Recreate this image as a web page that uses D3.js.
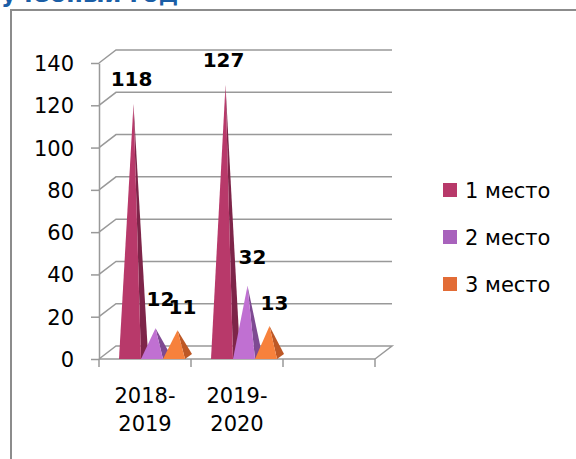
<!DOCTYPE html>
<html>
  <head>
    <meta charset="utf-8">
    <title>Места по учебным годам</title>
    <script src="https://cdn.jsdelivr.net/npm/d3@7"></script>
    <style>
      body { margin: 0; background: #fff; }
      svg { display: block; font-family: "DejaVu Sans", sans-serif; }
      .tick text { font-size: 21px; fill: #000; }
      .lbl { font-size: 20px; font-weight: bold; fill: #000; }
    </style>
  </head>
  <body>
    <svg id="chart" width="576" height="459"></svg>

    <script>
      // data
      categories = ["2018-2019", "2019-2020"];
      seriesNames = ["1 место", "2 место", "3 место"];
      place1 = [118, 127];
      place2 = [12, 32];
      place3 = [11, 13];
      yTicks = [0, 20, 40, 60, 80, 100, 120, 140];

      series = [place1, place2, place3];
      fronts = ["#b8396a", "#c070d2", "#f7813c"];
      sides = ["#7e2549", "#7e4a92", "#bd5826"];
      legendCols = ["#b8396a", "#a862bc", "#e26c36"];

      chart = d3.select("#chart");

      // clipped title + frame from the slide
      chart.append("text")
        .attr("x", 1)
        .attr("y", 2)
        .attr("font-size", 24)
        .attr("font-weight", "bold")
        .attr("fill", "#1b5ea6")
        .text("учебный год");
      chart.append("path")
        .attr("d", "M11,459V10H576")
        .attr("fill", "none")
        .attr("stroke", "#8c8c8c")
        .attr("stroke-width", 2);

      // scales
      depth = { x: 17, y: -13 };
      y = d3.scaleLinear()
        .domain([0, 140])
        .range([359, 63]);
      x = d3.scaleBand()
        .domain(categories.concat([""]))
        .range([99, 375]);
      inner = d3.scaleBand()
        .domain(d3.range(series.length))
        .range([20, 86]);

      grid = chart.append("g")
        .attr("stroke", "#999")
        .attr("stroke-width", 1.5)
        .attr("fill", "none");

      // back wall + side wall lines
      yTicks.forEach(function(t) {
        if (t > 0) {
          grid.append("path")
            .attr("d", "M" + x.range()[0] + "," + y(t) + "L" + (x.range()[0] + depth.x) + "," + (y(t) + depth.y) +
              "H" + (x.range()[1] + depth.x));
        }
      });
      // floor
      grid.append("path")
        .attr("d", "M" + x.range()[0] + "," + y(0) + "L" + (x.range()[0] + depth.x) + "," + (y(0) + depth.y) +
          "H" + (x.range()[1] + depth.x) + "L" + x.range()[1] + "," + y(0));

      // y axis
      chart.append("g")
        .attr("transform", "translate(" + x.range()[0] + ",0)")
        .call(d3.axisLeft(y)
          .tickValues(yTicks)
          .tickSizeOuter(0)
          .tickSizeInner(8)
          .tickPadding(17))
        .call(function(g) {
          g.selectAll("line, path").attr("stroke", "#999").attr("stroke-width", 1.5);
          g.selectAll("text").attr("dy", "0.36em").style("font-family", "DejaVu Sans");
        });

      // x axis
      xAxis = chart.append("g")
        .attr("transform", "translate(0," + y(0) + ")");
      xAxis.append("path")
        .attr("d", "M" + x.range()[0] + ",0H" + x.range()[1])
        .attr("stroke", "#999")
        .attr("stroke-width", 1.5);
      x.domain().concat(["end"]).forEach(function(c, i) {
        px = x.range()[0] + x.step() * i;
        xAxis.append("line")
          .attr("x1", px).attr("x2", px)
          .attr("y1", 0).attr("y2", 8)
          .attr("stroke", "#999")
          .attr("stroke-width", 1.5);
      });
      categories.forEach(function(c) {
        parts = c.split("-");
        t = xAxis.append("text")
          .attr("x", x(c) + x.bandwidth() / 2)
          .attr("text-anchor", "middle")
          .attr("font-size", 21);
        t.append("tspan").attr("x", x(c) + x.bandwidth() / 2).attr("y", 44).text(parts[0] + "-");
        t.append("tspan").attr("x", x(c) + x.bandwidth() / 2).attr("y", 72).text(parts[1]);
      });

      // pyramids
      pd = { x: 7, y: -5 };
      labelShift = [[-2, -18], [5, -22], [5, -16]];
      bars = chart.append("g");
      labels = chart.append("g");
      series.forEach(function(s, si) {
        s.forEach(function(v, ci) {
          x0 = x(categories[ci]) + inner(si);
          x1 = x0 + inner.bandwidth();
          yb = y(0);
          ax = (x0 + x1) / 2 + pd.x / 2;
          ay = y(v) + depth.y / 2 + 1;
          bars.append("path")
            .attr("d", "M" + x1 + "," + yb + "L" + (x1 + pd.x) + "," + (yb + pd.y) + "L" + ax + "," + ay + "Z")
            .attr("fill", sides[si]);
          bars.append("path")
            .attr("d", "M" + x0 + "," + yb + "L" + x1 + "," + yb + "L" + ax + "," + ay + "Z")
            .attr("fill", fronts[si]);
          labels.append("text")
            .attr("class", "lbl")
            .attr("x", ax + labelShift[si][0])
            .attr("y", ay + labelShift[si][1])
            .attr("text-anchor", "middle")
            .text(v);
        });
      });

      // legend
      legend = chart.append("g")
        .attr("transform", "translate(443,183)");
      seriesNames.forEach(function(n, i) {
        row = legend.append("g")
          .attr("transform", "translate(0," + i * 47 + ")");
        row.append("rect")
          .attr("width", 14)
          .attr("height", 14)
          .attr("fill", legendCols[i]);
        row.append("text")
          .attr("x", 22)
          .attr("y", 15)
          .attr("font-size", 21)
          .text(n);
      });
    </script>
  </body>
</html>
